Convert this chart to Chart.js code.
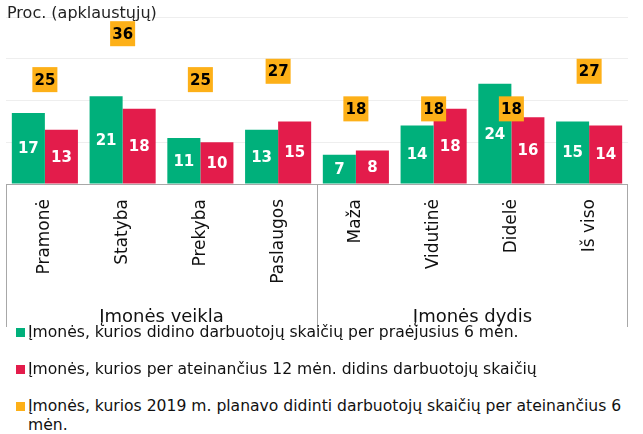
<!DOCTYPE html>
<html>
<head>
<meta charset="utf-8">
<script src="https://cdn.jsdelivr.net/npm/chart.js@4"></script>
<style>
  body { margin: 0; background: #fff; font-family: "DejaVu Sans", Verdana, sans-serif; }
  #wrap { position: relative; width: 643px; height: 434px; overflow: hidden; }
  #box { position: absolute; left: 0; top: 0; width: 643px; height: 340px; }
  .title { position: absolute; left: 7px; top: 3px; font-size: 16px; color: #222; }
  .leg { position: absolute; left: 16px; font-size: 15.6px; line-height: 19px; color: #111; white-space: nowrap; }
  .leg i { display: inline-block; width: 9px; height: 9px; margin-right: 3px; vertical-align: 0px; }
</style>
</head>
<body>
<div id="wrap">
  <div id="box"><canvas id="c"></canvas></div>
  <div class="title">Proc. (apklaustųjų)</div>
  <div class="leg" style="top:323px"><i style="background:#00B07B"></i>Įmonės, kurios didino darbuotojų skaičių per praėjusius 6 mėn.</div>
  <div class="leg" style="top:360px"><i style="background:#E31C4B"></i>Įmonės, kurios per ateinančius 12 mėn. didins darbuotojų skaičių</div>
  <div class="leg" style="top:397px"><i style="background:#FDB018"></i>Įmonės, kurios 2019 m. planavo didinti darbuotojų skaičių per ateinančius 6<br><span style="padding-left:12px">mėn.</span></div>
</div>
<script>
// kategorijos ir reikšmės (proc.)
const categories = ["Pramonė", "Statyba", "Prekyba", "Paslaugos", "Maža", "Vidutinė", "Didelė", "Iš viso"];
const increased6 = [17, 21, 11, 13, 7, 14, 24, 15];
const plan12 = [13, 18, 10, 15, 8, 18, 16, 14];
const plan2019 = [25, 36, 25, 27, 18, 18, 18, 27];
const groups = [
  { label: "Įmonės veikla", from: 0, to: 3 },
  { label: "Įmonės dydis", from: 4, to: 7 },
];

Chart.defaults.font.family = "'DejaVu Sans', Verdana, sans-serif";

// rėmelis po ašimi + grupių pavadinimai
const framePlugin = {
  id: "frame",
  afterDraw(chart) {
    const { ctx, chartArea: a, scales: { x } } = chart;
    const bottom = 327;
    const half = (x.getPixelForValue(1) - x.getPixelForValue(0)) / 2;
    ctx.save();
    ctx.strokeStyle = "#A8A8A8";
    ctx.lineWidth = 1;
    ctx.beginPath();
    ctx.moveTo(a.left, a.bottom + 0.5);
    ctx.lineTo(a.right, a.bottom + 0.5);
    ctx.moveTo(a.left + 0.5, a.bottom);
    ctx.lineTo(a.left + 0.5, bottom);
    ctx.moveTo(a.right - 0.5, a.bottom);
    ctx.lineTo(a.right - 0.5, bottom);
    const div = Math.round(x.getPixelForValue(groups[0].to) + half) + 0.5;
    ctx.moveTo(div, a.bottom);
    ctx.lineTo(div, bottom + 3);
    ctx.stroke();
    ctx.fillStyle = "#111";
    ctx.font = "18px 'DejaVu Sans', Verdana, sans-serif";
    ctx.textAlign = "center";
    ctx.textBaseline = "alphabetic";
    groups.forEach((g) => {
      const cx = (x.getPixelForValue(g.from) + x.getPixelForValue(g.to)) / 2;
      ctx.fillText(g.label, cx, 322);
    });
    ctx.restore();
  },
};

// reikšmių etiketės
const labelPlugin = {
  id: "vals",
  afterDatasetsDraw(chart) {
    const { ctx } = chart;
    ctx.save();
    ctx.font = "bold 15px 'DejaVu Sans', Verdana, sans-serif";
    ctx.textAlign = "center";
    ctx.textBaseline = "middle";
    chart.data.datasets.forEach((ds, i) => {
      const meta = chart.getDatasetMeta(i);
      meta.data.forEach((el, j) => {
        if (ds.type === "line") {
          ctx.fillStyle = "#000";
          ctx.fillText(ds.data[j], el.x, el.y + 1);
        } else {
          ctx.fillStyle = "#fff";
          ctx.fillText(ds.data[j], el.x, (el.y + el.base) / 2 + 1);
        }
      });
    });
    ctx.restore();
  },
};

new Chart(document.getElementById("c").getContext("2d"), {
  type: "bar",
  data: {
    labels: categories,
    datasets: [
      {
        type: "line",
        label: "Įmonės, kurios 2019 m. planavo didinti darbuotojų skaičių per ateinančius 6 mėn.",
        data: plan2019,
        showLine: false,
        pointStyle: "rect",
        pointRadius: 17.7,
        pointHoverRadius: 17.7,
        pointBackgroundColor: "#FDB018",
        pointBorderWidth: 0,
        borderColor: "#FDB018",
        order: 0,
        clip: false,
      },
      {
        label: "Įmonės, kurios didino darbuotojų skaičių per praėjusius 6 mėn.",
        data: increased6,
        backgroundColor: "#00B07B",
        categoryPercentage: 0.85,
        barPercentage: 1,
        order: 1,
      },
      {
        label: "Įmonės, kurios per ateinančius 12 mėn. didins darbuotojų skaičių",
        data: plan12,
        backgroundColor: "#E31C4B",
        categoryPercentage: 0.85,
        barPercentage: 1,
        order: 1,
      },
    ],
  },
  options: {
    responsive: true,
    maintainAspectRatio: false,
    animation: false,
    layout: { autoPadding: false, padding: { top: 17, left: 6, right: 15, bottom: 0 } },
    plugins: { legend: { display: false }, tooltip: { enabled: false } },
    scales: {
      x: {
        grid: { display: false, drawTicks: true, tickLength: 15 },
        border: { display: false },
        ticks: { minRotation: 90, maxRotation: 90, padding: 0, color: "#111", font: { size: 17 } },
        afterFit: (s) => { s.height = 156; s.paddingLeft = 0; s.paddingRight = 0; },
      },
      y: {
        min: 0,
        max: 40,
        ticks: { display: false, stepSize: 10 },
        grid: { color: "#EEEEEE", drawTicks: false },
        border: { display: false },
        afterFit: (s) => { s.width = 0; s.paddingTop = 0; s.paddingBottom = 0; },
      },
    },
  },
  plugins: [framePlugin, labelPlugin],
});
</script>
</body>
</html>
